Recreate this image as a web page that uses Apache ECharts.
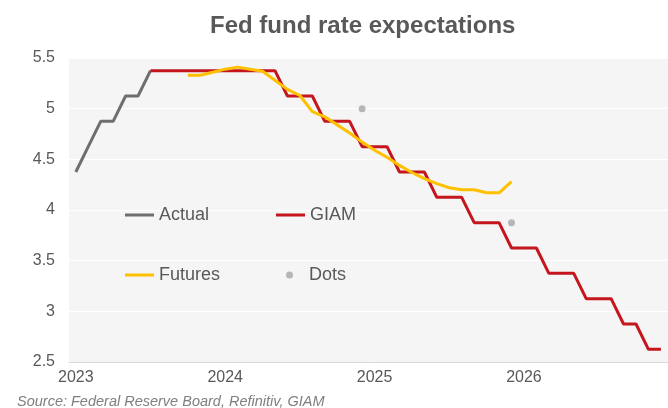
<!DOCTYPE html>
<html>
<head>
<meta charset="utf-8">
<script src="https://cdn.jsdelivr.net/npm/echarts@6/dist/echarts.min.js"></script>
<style>
html,body{margin:0;padding:0;background:#fff;}
#c{width:668px;height:408px;}
</style>
</head>
<body>
<div id="c"></div>
<script>
// ---- data (months as 'YYYY-MM') ----
const actualDates = ['2023-01','2023-02','2023-03','2023-04','2023-05','2023-06','2023-07'];
const actualValues = [4.375,4.625,4.875,4.875,5.125,5.125,5.375];

const giamDates = ['2023-07','2023-08','2023-09','2023-10','2023-11','2023-12','2024-01','2024-02','2024-03','2024-04','2024-05',
  '2024-06','2024-07','2024-08','2024-09','2024-10','2024-11','2024-12','2025-01','2025-02','2025-03','2025-04','2025-05',
  '2025-06','2025-07','2025-08','2025-09','2025-10','2025-11','2025-12','2026-01','2026-02','2026-03','2026-04','2026-05',
  '2026-06','2026-07','2026-08','2026-09','2026-10','2026-11','2026-12'];
const giamValues = [5.375,5.375,5.375,5.375,5.375,5.375,5.375,5.375,5.375,5.375,5.375,
  5.125,5.125,5.125,4.875,4.875,4.875,4.625,4.625,4.625,4.375,4.375,4.375,
  4.125,4.125,4.125,3.875,3.875,3.875,3.625,3.625,3.625,3.375,3.375,3.375,
  3.125,3.125,3.125,2.875,2.875,2.625,2.625];

const futuresDates = ['2023-10','2023-11','2023-12','2024-01','2024-02','2024-03','2024-04','2024-05','2024-06','2024-07',
  '2024-08','2024-09','2024-10','2024-11','2024-12','2025-01','2025-02','2025-03','2025-04','2025-05','2025-06','2025-07',
  '2025-08','2025-09','2025-10','2025-11','2025-12'];
const futuresValues = [5.33,5.33,5.36,5.39,5.41,5.39,5.37,5.28,5.19,5.13,4.97,4.92,4.84,4.76,4.67,4.59,4.52,4.44,4.37,4.31,
  4.26,4.22,4.20,4.20,4.17,4.17,4.28];

const dotsDates = ['2024-12','2025-12'];
const dotsValues = [5.0,3.875];

const yearLabels = ['2023','2024','2025','2026'];

// ---- helpers ----
const BASE_YEAR = 2023;
function toMonth(d){ const p = d.split('-'); return (parseInt(p[0]) - BASE_YEAR) * 12 + parseInt(p[1]) - 1; }
function pairs(dates, vals){ return dates.map((d,i)=>[toMonth(d), vals[i]]); }
const yearTicks = yearLabels.map(y => toMonth(y + '-01'));

const FONT = '"Liberation Sans", Arial, sans-serif';
const legendText = {fontFamily:FONT, fontSize:18, color:'#595959', lineHeight:20};
const chart = echarts.init(document.getElementById('c'), null, {renderer:'canvas'});
chart.setOption({
  animation:false,
  backgroundColor:'#ffffff',
  title:{
    text:'Fed fund rate expectations',
    left:205, top:9,
    textStyle:{fontFamily:FONT, fontSize:24, fontWeight:'bold', color:'#595959'}
  },
  grid:{left:69, right:0, top:58, bottom:46, show:true, backgroundColor:'#f5f5f5', borderWidth:0},
  xAxis:{
    type:'value', min:-0.546, max:47.57,
    axisLine:{show:true, lineStyle:{color:'#d9d9d9', width:1}},
    axisTick:{show:false},
    splitLine:{show:false},
    axisLabel:{
      customValues: yearTicks,
      formatter: v => String(BASE_YEAR + Math.round(v/12)),
      fontFamily:FONT, fontSize:16, color:'#595959', margin:8
    }
  },
  yAxis:{
    type:'value', min:2.5, max:5.5, interval:0.5,
    axisLine:{show:false}, axisTick:{show:false},
    splitLine:{show:true, lineStyle:{color:'#ffffff', width:1}},
    axisLabel:{fontFamily:FONT, fontSize:16, color:'#595959', margin:14}
  },
  legend:[
    {data:[{name:'Actual', icon:'rect'},{name:'Futures', icon:'rect'}], orient:'vertical', left:120, top:200,
     itemWidth:29, itemHeight:3, itemGap:40, textStyle:legendText},
    {data:[{name:'GIAM', icon:'rect'}], orient:'vertical', left:271, top:200,
     itemWidth:29, itemHeight:3, itemGap:40, textStyle:legendText},
    {data:[{name:'Dots', icon:'circle'}], orient:'vertical', left:281, top:260,
     itemWidth:29, itemHeight:7, itemGap:40, textStyle:legendText}
  ],
  series:[
    {name:'Actual', type:'line', data:pairs(actualDates, actualValues), symbol:'none',
     lineStyle:{color:'#6e6e6e', width:3}, itemStyle:{color:'#6e6e6e'}, z:2},
    {name:'GIAM', type:'line', data:pairs(giamDates, giamValues), symbol:'none',
     lineStyle:{color:'#c4161c', width:3}, itemStyle:{color:'#c4161c'}, z:3},
    {name:'Futures', type:'line', data:pairs(futuresDates, futuresValues), symbol:'none',
     lineStyle:{color:'#ffc000', width:3}, itemStyle:{color:'#ffc000'}, z:4},
    {name:'Dots', type:'scatter', data:pairs(dotsDates, dotsValues), symbol:'circle', symbolSize:7,
     itemStyle:{color:'#a6a6a6'}, z:5}
  ],
  graphic:[
    {type:'text', left:17, top:394, style:{text:'Source: Federal Reserve Board, Refinitiv, GIAM',
      font:'italic 14.5px ' + FONT, fill:'#7f7f7f'}}
  ]
});
</script>
</body>
</html>
